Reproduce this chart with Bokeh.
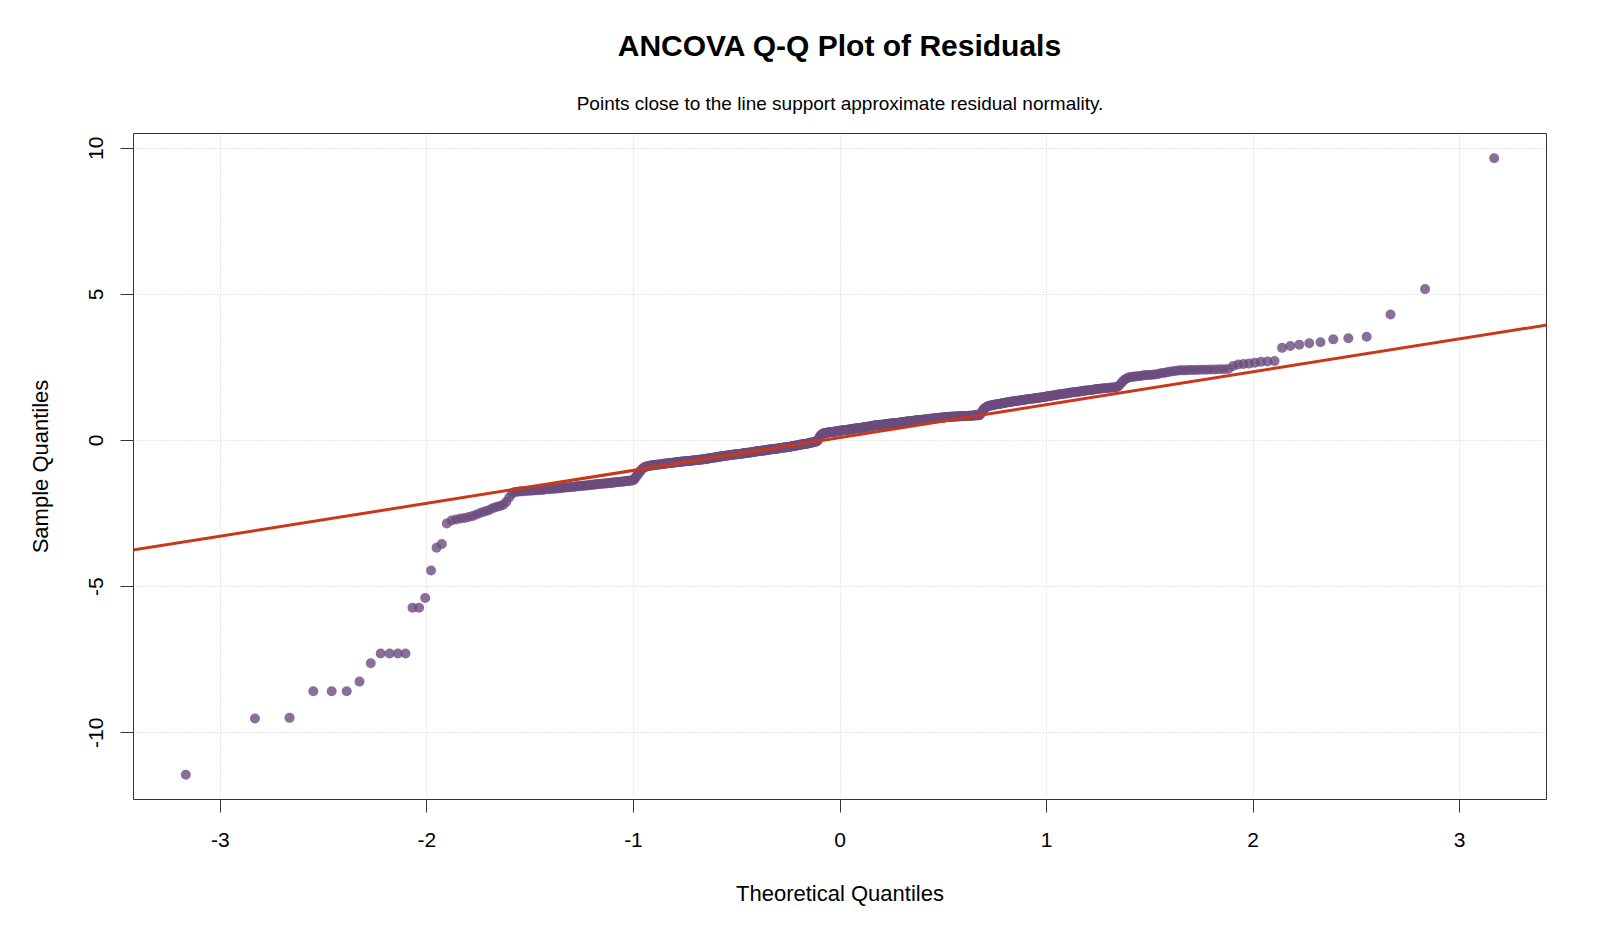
from statistics import NormalDist
import math

from bokeh.plotting import figure
from bokeh.models import Range1d, Title, Slope, FixedTicker, ColumnDataSource
from bokeh.embed import file_html
from bokeh.resources import INLINE

TITLE = "ANCOVA Q-Q Plot of Residuals"
SUBTITLE = "Points close to the line support approximate residual normality."
X_LABEL = "Theoretical Quantiles"
Y_LABEL = "Sample Quantiles"
X_TICKS = [-3, -2, -1, 0, 1, 2, 3]
Y_TICKS = [-10, -5, 0, 5, 10]

# Sorted model residuals, split into tails and central band
resid_low_tail = [
    -11.44, -9.51, -9.49, -8.58, -8.58, -8.58, -8.25, -7.62, -7.29, -7.29,
    -7.29, -7.29, -5.72, -5.72, -5.39, -4.45, -3.67, -3.54, -2.84,
]
resid_low_band = [
    -2.74, -2.70, -2.67, -2.65, -2.62, -2.58, -2.53, -2.48, -2.44, -2.40,
    -2.35, -2.30, -2.27, -2.24, -2.20, -2.10, -1.95, -1.82, -1.76,
    -1.75, -1.74, -1.74, -1.73, -1.72, -1.72, -1.71, -1.70, -1.70, -1.69,
    -1.69, -1.68, -1.67, -1.67, -1.66, -1.65, -1.65, -1.64, -1.63, -1.63,
    -1.62, -1.61, -1.61, -1.60, -1.59, -1.59, -1.58,
    -1.57, -1.57, -1.56, -1.56, -1.55, -1.54, -1.54, -1.53, -1.52, -1.52,
    -1.51, -1.51, -1.50, -1.49, -1.49, -1.48, -1.48, -1.47, -1.47, -1.46,
    -1.46, -1.45, -1.45, -1.44, -1.44, -1.43, -1.42, -1.42, -1.41, -1.41,
    -1.40, -1.40, -1.39, -1.39, -1.38, -1.38, -1.37,
    -1.37, -1.34, -1.28, -1.22, -1.16, -1.10, -1.04, -0.99, -0.95, -0.92,
    -0.90, -0.89, -0.88, -0.87, -0.86, -0.86, -0.85, -0.84,
    -0.84, -0.83, -0.83, -0.82, -0.82, -0.81, -0.81, -0.80, -0.80, -0.79,
    -0.79, -0.78, -0.78, -0.77, -0.77, -0.76, -0.76,
    -0.75, -0.75, -0.74, -0.74, -0.74, -0.73, -0.73, -0.72, -0.72, -0.72,
    -0.71, -0.71, -0.70, -0.70, -0.70, -0.69, -0.69, -0.69, -0.68, -0.68,
    -0.67, -0.67, -0.67, -0.66, -0.66, -0.66,
]
resid_mid_band = [
    -0.65, -0.65, -0.64, -0.64, -0.63, -0.63, -0.62, -0.62, -0.61, -0.60,
    -0.60, -0.59, -0.59, -0.58, -0.58, -0.57, -0.57, -0.56, -0.56, -0.55,
    -0.55, -0.54, -0.54, -0.53,
    -0.52, -0.52, -0.52, -0.51, -0.51, -0.50, -0.50, -0.50, -0.49, -0.49,
    -0.48, -0.48, -0.48, -0.47, -0.47, -0.46, -0.46, -0.46, -0.45, -0.45,
    -0.44, -0.44, -0.44, -0.43, -0.43, -0.42, -0.42, -0.42, -0.41, -0.41,
    -0.40, -0.40, -0.39, -0.39, -0.38, -0.38, -0.37,
    -0.37, -0.36, -0.36, -0.36, -0.35, -0.35, -0.34, -0.34, -0.34, -0.33,
    -0.33, -0.32, -0.32, -0.32, -0.31, -0.31, -0.30, -0.30, -0.30, -0.29,
    -0.29, -0.28, -0.28, -0.28, -0.27, -0.27, -0.26, -0.26, -0.26, -0.25,
    -0.25, -0.24, -0.24, -0.24, -0.23, -0.23, -0.22, -0.22, -0.22, -0.21,
    -0.20, -0.20, -0.19, -0.19, -0.18, -0.18, -0.17, -0.17, -0.16, -0.16,
    -0.15, -0.15, -0.14, -0.14, -0.13, -0.13, -0.12, -0.12, -0.11, -0.11,
    -0.10, -0.10, -0.09, -0.08,
    -0.08, -0.07, -0.07, -0.06, -0.05, -0.05, -0.04, -0.03, -0.02,
    0.02, 0.07, 0.12, 0.16, 0.19, 0.21, 0.23, 0.25,
    0.25, 0.26, 0.26, 0.26, 0.27, 0.27, 0.28, 0.28, 0.28, 0.29,
    0.29, 0.30, 0.30, 0.30, 0.31, 0.31, 0.32, 0.32, 0.32, 0.33,
    0.33, 0.34, 0.34, 0.34, 0.35, 0.35, 0.36, 0.36, 0.36, 0.37,
    0.37, 0.38, 0.38, 0.38, 0.39, 0.39, 0.40, 0.40, 0.40, 0.41,
    0.41, 0.42, 0.42, 0.42, 0.43, 0.43, 0.44, 0.44, 0.44, 0.45,
    0.45, 0.46, 0.46, 0.46, 0.47, 0.47, 0.48, 0.48, 0.49, 0.49,
    0.50, 0.50, 0.51,
    0.51, 0.51, 0.52, 0.52, 0.52, 0.53, 0.53, 0.53, 0.54, 0.54,
    0.54, 0.55, 0.55, 0.55, 0.56, 0.56, 0.56, 0.57, 0.57, 0.57,
    0.58, 0.58, 0.58, 0.59, 0.59, 0.59, 0.60, 0.60, 0.60, 0.61,
    0.61, 0.61, 0.62, 0.62, 0.62, 0.63, 0.63, 0.64, 0.64, 0.65,
    0.65, 0.65, 0.66, 0.66, 0.66, 0.67, 0.67, 0.67, 0.68, 0.68,
    0.68, 0.69, 0.69, 0.69, 0.70, 0.70, 0.70, 0.71, 0.71, 0.71,
    0.72, 0.72, 0.72, 0.73, 0.73, 0.73, 0.74, 0.74, 0.74, 0.75,
    0.75, 0.75, 0.76, 0.76, 0.76, 0.77, 0.77, 0.78, 0.78,
    0.78, 0.79, 0.79, 0.79, 0.79, 0.80, 0.80, 0.80, 0.80, 0.81,
    0.81, 0.81, 0.81, 0.81, 0.82, 0.82, 0.82, 0.82, 0.82, 0.83,
    0.83, 0.83, 0.83, 0.83, 0.84, 0.84, 0.84, 0.84, 0.84, 0.85,
    0.85, 0.85, 0.85, 0.85, 0.85, 0.86, 0.86, 0.86, 0.86, 0.86,
    0.86,
]
resid_high_band = [
    0.90, 0.95, 1.00, 1.05, 1.09, 1.12, 1.14, 1.16, 1.18,
    1.19, 1.20, 1.20, 1.21, 1.22, 1.22, 1.23, 1.24, 1.24, 1.25,
    1.26, 1.26, 1.27, 1.28, 1.28, 1.29, 1.30,
    1.31, 1.31, 1.32, 1.32, 1.33, 1.34, 1.34, 1.35, 1.35, 1.36,
    1.37, 1.37, 1.38, 1.38, 1.39, 1.39, 1.40, 1.41, 1.41, 1.42,
    1.42, 1.43, 1.44, 1.44, 1.45, 1.45, 1.46, 1.46, 1.47,
    1.48, 1.49, 1.49, 1.50, 1.51, 1.52, 1.52, 1.53, 1.54, 1.55,
    1.55, 1.56, 1.57, 1.58, 1.58, 1.59, 1.60, 1.61, 1.61, 1.62,
    1.63, 1.64, 1.64, 1.65,
    1.66, 1.67, 1.67, 1.68, 1.69, 1.70, 1.70, 1.71, 1.72, 1.73,
    1.73, 1.74, 1.75, 1.76, 1.76, 1.77, 1.78, 1.79, 1.79, 1.80,
    1.80, 1.81, 1.81, 1.82, 1.82,
    1.87, 1.95, 2.03, 2.09, 2.13, 2.16,
    2.17, 2.18, 2.19, 2.20, 2.21, 2.22, 2.23, 2.24, 2.24, 2.25,
    2.26, 2.27,
    2.29, 2.31, 2.32, 2.34, 2.36, 2.37, 2.39, 2.40,
    2.40, 2.40, 2.41, 2.41, 2.41, 2.42, 2.42, 2.42, 2.43, 2.43,
    2.44, 2.44, 2.45,
]
resid_high_tail = [
    2.55, 2.60, 2.62, 2.63, 2.66, 2.69, 2.70, 2.72, 3.17, 3.23,
    3.28, 3.33, 3.36, 3.46, 3.50, 3.55, 4.31, 5.18, 9.66,
]

sample_q = sorted(resid_low_tail + resid_low_band + resid_mid_band
                  + resid_high_band + resid_high_tail)
n = len(sample_q)

# Theoretical normal quantiles at plotting positions (i - 0.5) / n
norm = NormalDist()
theo_q = [norm.inv_cdf((i + 0.5) / n) for i in range(n)]


def quantile7(xs, prob):
    h = (len(xs) - 1) * prob
    lo = math.floor(h)
    hi = min(lo + 1, len(xs) - 1)
    return xs[lo] + (h - lo) * (xs[hi] - xs[lo])


# Reference line through the first and third quartiles
q1_y, q3_y = quantile7(sample_q, 0.25), quantile7(sample_q, 0.75)
q1_x, q3_x = norm.inv_cdf(0.25), norm.inv_cdf(0.75)
slope = (q3_y - q1_y) / (q3_x - q1_x)
intercept = q1_y - slope * q1_x


def padded(lo, hi, frac=0.04):
    span = hi - lo
    return lo - frac * span, hi + frac * span


x_lo, x_hi = padded(min(theo_q), max(theo_q))
y_lo, y_hi = padded(min(sample_q), max(sample_q))

FONT = "Liberation Sans"

p = figure(
    width=1600, height=933,
    x_range=Range1d(x_lo, x_hi), y_range=Range1d(y_lo, y_hi),
    output_backend="svg", toolbar_location=None,
    min_border_left=133, min_border_right=54,
    min_border_top=133, min_border_bottom=134,
)
p.background_fill_color = "white"
p.border_fill_color = "white"
p.outline_line_color = "#333333"
p.outline_line_width = 1

for g, ticks in ((p.xgrid, X_TICKS), (p.ygrid, Y_TICKS)):
    g.ticker = FixedTicker(ticks=ticks)
    g.grid_line_color = "#cfcfcf"
    g.grid_line_dash = "1 2"
    g.grid_line_width = 1

for ax, ticks in ((p.xaxis, X_TICKS), (p.yaxis, Y_TICKS)):
    ax.ticker = FixedTicker(ticks=ticks)
    ax.major_label_overrides = {t: str(t) for t in ticks}
    ax.axis_line_color = None
    ax.major_tick_line_color = "#333333"
    ax.major_tick_line_width = 1
    ax.major_tick_out = 13
    ax.major_tick_in = 0
    ax.minor_tick_line_color = None
    ax.major_label_text_font = FONT
    ax.major_label_text_font_size = "21px"
    ax.major_label_text_color = "black"
    ax.axis_label_text_font = FONT
    ax.axis_label_text_font_size = "22px"
    ax.axis_label_text_font_style = "normal"
    ax.axis_label_text_color = "black"

p.xaxis.axis_label = X_LABEL
p.xaxis.major_label_standoff = 20
p.xaxis.axis_label_standoff = 31
p.yaxis.axis_label = Y_LABEL
p.yaxis.major_label_orientation = "vertical"
p.yaxis.major_label_standoff = 17
p.yaxis.axis_label_standoff = 34

src = ColumnDataSource(dict(x=theo_q, y=sample_q))
p.scatter("x", "y", source=src, size=10, fill_color="#6b4c7e",
          fill_alpha=0.8, line_color=None)

p.add_layout(Slope(gradient=slope, y_intercept=intercept,
                   line_color="#c8381a", line_width=3))

# Subtitle sits nearest the frame; the main title stacks above it
p.add_layout(Title(text=SUBTITLE, align="center", text_font=FONT,
                   text_font_size="19px", text_font_style="normal",
                   text_color="black", standoff=39), "above")
p.add_layout(Title(text=TITLE, align="center", text_font=FONT,
                   text_font_size="30px", text_font_style="bold",
                   text_color="black", standoff=20), "above")

open("out.html", "w").write(file_html(p, INLINE))
